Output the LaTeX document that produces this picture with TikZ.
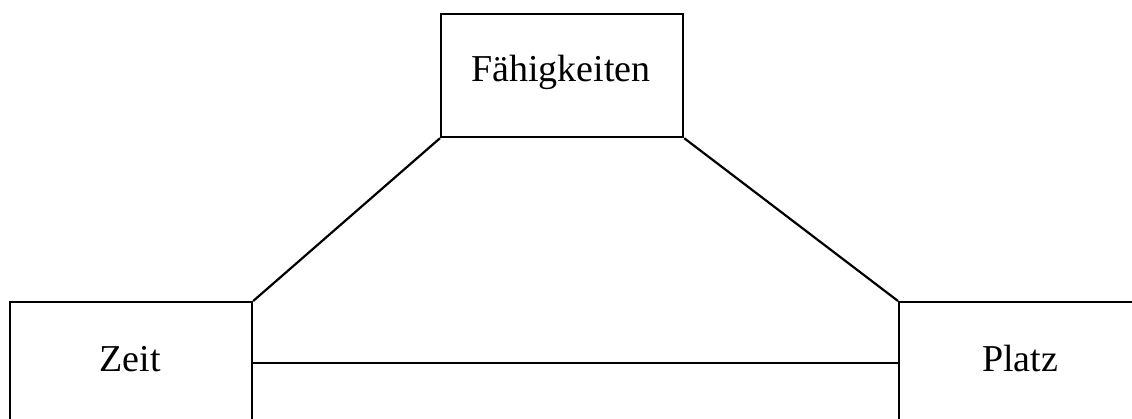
\documentclass[tikz,border=0pt]{standalone}
\usepackage{fontspec}
\setmainfont{Liberation Serif}
\begin{document}
\begin{tikzpicture}[x=1pt, y=-1pt, line width=2.2pt,
  box/.style={draw, rectangle, inner sep=0pt, anchor=north west},
  lbl/.style={font=\fontsize{38}{44}\selectfont, inner sep=0pt, anchor=base}]
  \useasboundingbox (0,0) rectangle (1132,419);
  \clip (0,0) rectangle (1132,419);
  % frames
  \node[box, minimum width=242pt, minimum height=123pt] (faehig) at (440,13) {};
  \node[box, minimum width=242pt, minimum height=200pt] (zeit) at (9,301) {};
  \node[box, minimum width=300pt, minimum height=200pt] (platz) at (898,301) {};
  % labels
  \node[lbl] (tfaehig) at (561,82) {Fähigkeiten};
  \node[lbl] (tzeit) at (130,371) {Zeit};
  \node[lbl] (tplatz) at (1020,371) {Platz};
  % connectors
  \coordinate (mid) at (0,363);
  \draw (faehig.south west) -- (zeit.north east);
  \draw (faehig.south east) -- (platz.north west);
  \draw (zeit.east |- mid) -- (platz.west |- mid);
\end{tikzpicture}
\end{document}
